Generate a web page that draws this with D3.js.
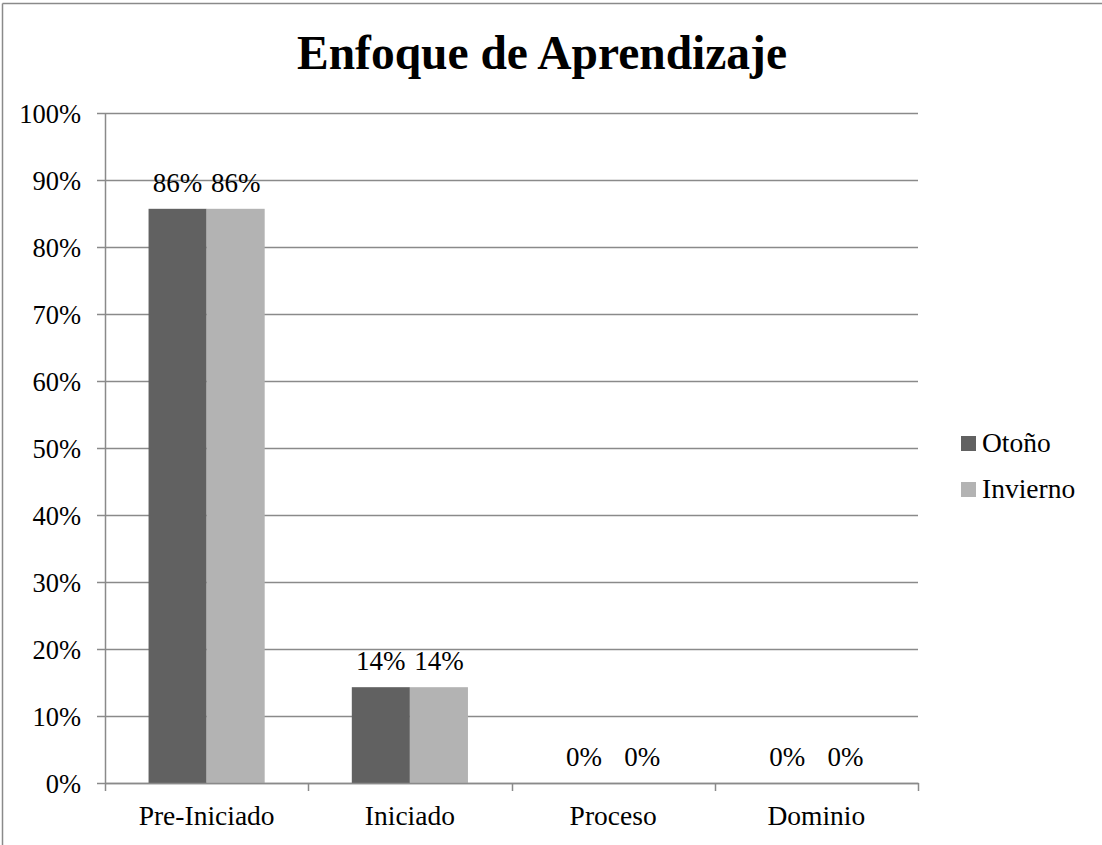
<!DOCTYPE html>
<html><head><meta charset="utf-8">
<script src="https://cdn.jsdelivr.net/npm/d3@7"></script>
<style>body{margin:0;background:#fff}svg{display:block}text{font-family:"Liberation Serif","Times New Roman",serif;fill:#000}</style>
</head><body>
<svg id="c" width="1102" height="845"></svg>
<script>
const title = "Enfoque de Aprendizaje";
const categories = ["Pre-Iniciado", "Iniciado", "Proceso", "Dominio"];
const seriesNames = ["Otoño", "Invierno"];
const otono = [0.857, 0.143, 0, 0];
const invierno = [0.857, 0.143, 0, 0];
const yTicks = [0, 0.1, 0.2, 0.3, 0.4, 0.5, 0.6, 0.7, 0.8, 0.9, 1.0];
const colors = ["#616161", "#b3b3b3"];

const svg = d3.select("#c");
const W = 1102, H = 845;
const pL = 105, pR = 918, pT = 113, pB = 783;
const grid = "#8a8a8a";
const ff = '"Liberation Serif","Times New Roman",serif';

// outer border (top & left visible)
svg.append("line").attr("x1", 2.5).attr("x2", W).attr("y1", 3.5).attr("y2", 3.5).attr("stroke", grid).attr("stroke-width", 1.5);
svg.append("line").attr("x1", 2.5).attr("x2", 2.5).attr("y1", 3.5).attr("y2", H).attr("stroke", grid).attr("stroke-width", 1.5);

const y = d3.scaleLinear().domain([0, 1]).range([pB, pT]);
const x0 = d3.scaleBand().domain(categories).range([pL, pR]).paddingInner(0).paddingOuter(0);
const bw = x0.bandwidth() / 3.5;
const x1 = d3.scaleBand().domain(seriesNames).range([0.75 * bw, 2.75 * bw]);

// gridlines
svg.append("g").selectAll("line").data(yTicks).join("line")
  .attr("x1", pL - 8).attr("x2", pR).attr("y1", d => Math.round(y(d)) + 0.5).attr("y2", d => Math.round(y(d)) + 0.5)
  .attr("stroke", grid).attr("stroke-width", 1.5);

// y axis
const yAxis = d3.axisLeft(y).tickValues(yTicks).tickFormat(d3.format(".0%")).tickSize(0).tickPadding(0);
const ya = svg.append("g").attr("transform", `translate(${pL},0)`).call(yAxis);
ya.select(".domain").remove();
ya.selectAll("text").attr("x", -24).attr("dy", "0.36em").style("font-size", "26.5px").style("font-family", ff);
svg.append("line").attr("x1", pL + 0.5).attr("x2", pL + 0.5).attr("y1", pT).attr("y2", pB).attr("stroke", grid).attr("stroke-width", 1.5);

// bars
const data = categories.map((c, i) => ({c, vals: [otono[i], invierno[i]]}));
const g = svg.append("g");
data.forEach(d => {
  d.vals.forEach((v, j) => {
    const xx = x0(d.c) + x1(seriesNames[j]);
    g.append("rect").attr("x", xx).attr("width", x1.bandwidth()).attr("y", y(v)).attr("height", pB - y(v)).attr("fill", colors[j]);
    g.append("text").attr("x", xx + x1.bandwidth() / 2).attr("y", y(v) - 17).attr("text-anchor", "middle")
      .style("font-size", "27px").text(d3.format(".0%")(v));
  });
});

// x axis
const xAxis = d3.axisBottom(x0).tickSize(0).tickPadding(0);
const xa = svg.append("g").attr("transform", `translate(0,${pB})`).call(xAxis);
xa.select(".domain").remove();
xa.selectAll("text").attr("y", 42).attr("dy", 0).style("font-size", "27.5px").style("font-family", ff);
svg.append("line").attr("x1", pL).attr("x2", pR + 0.75).attr("y1", pB + 0.5).attr("y2", pB + 0.5).attr("stroke", grid).attr("stroke-width", 1.5);
const tickXs = categories.map(c => x0(c)).concat([pR]);
svg.append("g").selectAll("line").data(tickXs).join("line")
  .attr("x1", d => Math.round(d) + 0.5).attr("x2", d => Math.round(d) + 0.5).attr("y1", pB).attr("y2", pB + 8)
  .attr("stroke", grid).attr("stroke-width", 1.5);

// title
svg.append("text").attr("x", 542).attr("y", 69).attr("text-anchor", "middle")
  .style("font-size", "47.5px").style("font-weight", "bold").text(title);

// legend
const lg = svg.append("g");
seriesNames.forEach((s, i) => {
  const yy = 452 + i * 46;
  lg.append("rect").attr("x", 961).attr("y", yy - 16).attr("width", 15).attr("height", 15).attr("fill", colors[i]);
  lg.append("text").attr("x", 982).attr("y", yy).style("font-size", "27.5px").text(s);
});
</script>
</body></html>
